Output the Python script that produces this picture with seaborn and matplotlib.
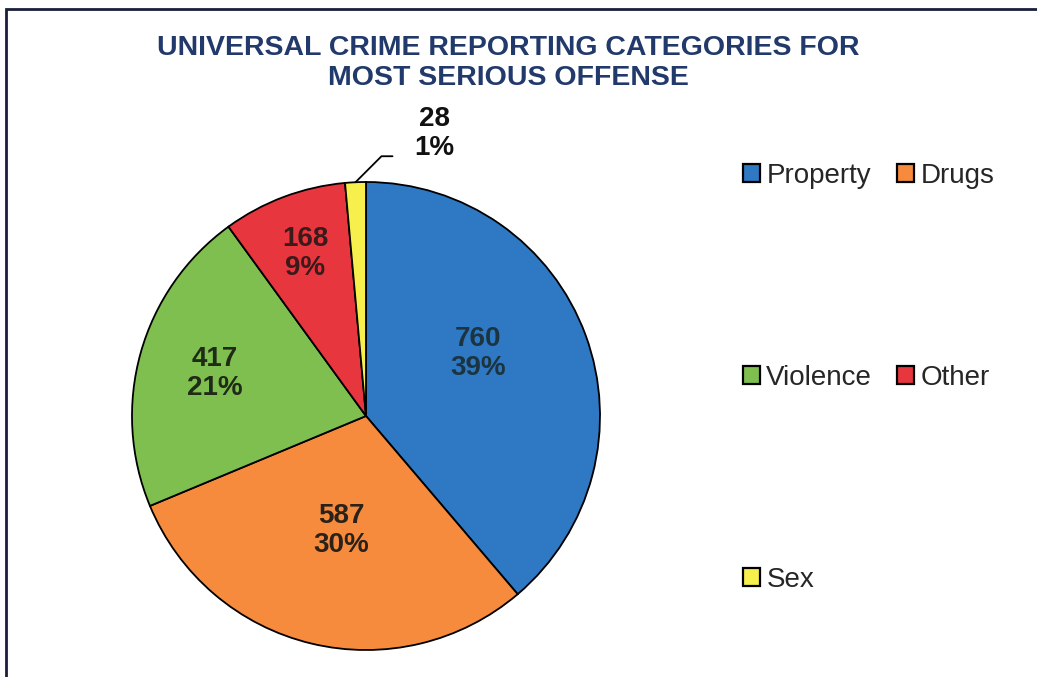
import numpy as np
import matplotlib
matplotlib.use("Agg")
import matplotlib.pyplot as plt
import seaborn as sns
from matplotlib.patches import Rectangle

categories = ["Property", "Drugs", "Violence", "Other", "Sex"]
counts = [760, 587, 417, 168, 28]
pct_labels = ["39%", "30%", "21%", "9%", "1%"]
colors = ["#2f78c4", "#f78b3d", "#7fbf4f", "#e8363f", "#f6ef4c"]
label_colors = ["#1c3440", "#2a2218", "#1f2a17", "#3a1a1a", "#111111"]
title = "UNIVERSAL CRIME REPORTING CATEGORIES FOR\nMOST SERIOUS OFFENSE"

sns.set_theme(style="white")
plt.rcParams["font.family"] = ["Liberation Sans", "DejaVu Sans"]

W, H = 1037, 677
fig = plt.figure(figsize=(W / 100, H / 100), dpi=100)
fig.patch.set_facecolor("white")
ax = fig.add_axes([0, 0, 1, 1])

cx, cy, R = 366, H - 416, 234
wedges, _ = ax.pie(counts, colors=colors, startangle=90, counterclock=False,
                   center=(cx, cy), radius=R, frame=True,
                   wedgeprops=dict(edgecolor="black", linewidth=1.3))
ax.set_xlim(0, W)
ax.set_ylim(0, H)
ax.set_axis_off()
ax.set_aspect("equal")

# label placement: (radial fraction, angular offset in degrees)
placement = [(0.55, 9.0), (0.50, 1.5), (0.67, 0.0), (0.74, 0.0), None]
for i, w in enumerate(wedges):
    mid_deg = (w.theta1 + w.theta2) / 2
    txt = f"{counts[i]}\n{pct_labels[i]}"
    if placement[i] is not None:
        frac, off = placement[i]
        a = np.deg2rad(mid_deg + off)
        x = cx + frac * R * np.cos(a)
        y = cy + frac * R * np.sin(a)
        ax.text(x, y, txt, ha="center", va="center", fontsize=20,
                fontweight="bold", color=label_colors[i], linespacing=1.15)
    else:
        a = np.deg2rad(mid_deg)
        ex = cx + R * np.cos(a)
        ey = cy + R * np.sin(a)
        kx, ky = ex + 26, ey + 26
        ax.plot([ex, kx, kx + 11], [ey, ky, ky], color="black", lw=1.3)
        ax.text(kx + 53, ky + 23, txt, ha="center", va="center", fontsize=20,
                fontweight="bold", color=label_colors[i], linespacing=1.15)

fig.text(508 / W, 1 - 63 / H, title, ha="center", va="center", fontsize=20.5,
         fontweight="bold", color="#223a6b", linespacing=1.2)

order = [0, 2, 4, 1, 3]
leg = fig.legend([wedges[i] for i in order], [categories[i] for i in order],
                 ncol=2, loc="upper left", bbox_to_anchor=(743 / W, 1 - 163 / H),
                 frameon=False, fontsize=20, handlelength=0.62, handleheight=0.6,
                 handletextpad=0.22, columnspacing=0.9, labelspacing=6.33,
                 borderpad=0, borderaxespad=0)
for h in leg.legend_handles:
    h.set_edgecolor("black")
    h.set_linewidth(1.6)

fig.add_artist(Rectangle((6 / W, -0.1), 1.2, 1.1 - 9 / H, transform=fig.transFigure,
                         fill=False, edgecolor="#1a1f3a", linewidth=2))

fig.savefig("out.png", dpi=100, facecolor="white")
